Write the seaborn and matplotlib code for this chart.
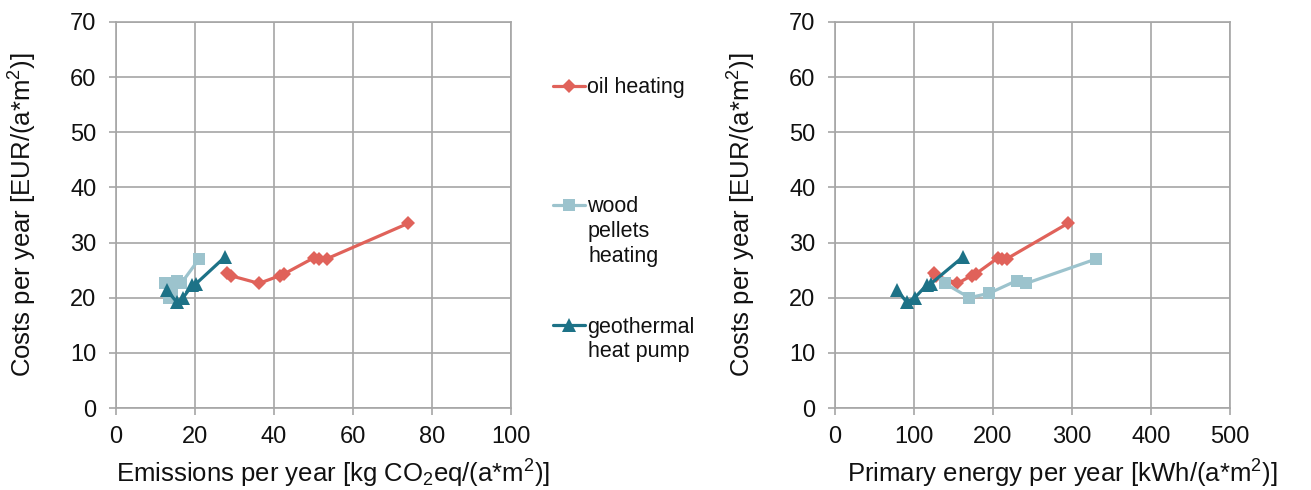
import matplotlib
matplotlib.use("Agg")
import matplotlib.pyplot as plt
import seaborn as sns
import pandas as pd

# values
oil_emis = [28.0, 29.0, 36.2, 41.5, 42.5, 50.0, 51.5, 53.5, 74.0]
oil_prim = [125, 128, 155, 173, 178, 206, 212, 218, 295]
oil_cost = [24.5, 24.0, 22.6, 24.0, 24.3, 27.2, 27.1, 27.1, 33.5]

wood_emis = [12.5, 13.5, 14.2, 15.5, 16.5, 21.0]
wood_prim = [139, 170, 195, 230, 242, 330]
wood_cost = [22.6, 20.0, 20.8, 23.1, 22.6, 27.0]

geo_emis = [12.8, 15.4, 17.0, 19.3, 20.2, 27.6]
geo_prim = [78, 91, 101, 116, 121, 162]
geo_cost = [21.4, 19.2, 20.0, 22.3, 22.5, 27.4]

series = ["oil heating", "wood pellets heating", "geothermal heat pump"]
legend_lines = [["oil heating"], ["wood", "pellets", "heating"], ["geothermal", "heat pump"]]
colors = ["#E0625A", "#9CC3CD", "#1D7287"]
markers = ["D", "s", "^"]
msizes = [7, 9, 10]

df = pd.concat([
    pd.DataFrame({"emis": oil_emis, "prim": oil_prim, "cost": oil_cost, "series": series[0]}),
    pd.DataFrame({"emis": wood_emis, "prim": wood_prim, "cost": wood_cost, "series": series[1]}),
    pd.DataFrame({"emis": geo_emis, "prim": geo_prim, "cost": geo_cost, "series": series[2]}),
])

sns.set_theme(style="whitegrid")
plt.rcParams["font.family"] = ["Liberation Sans", "DejaVu Sans"]
plt.rcParams["mathtext.fontset"] = "custom"
plt.rcParams["mathtext.rm"] = "Liberation Sans"
plt.rcParams["mathtext.it"] = "Liberation Sans:italic"

W, H = 1311, 490
fig = plt.figure(figsize=(W / 100, H / 100), dpi=100)
ax1 = fig.add_axes([116 / W, 82 / H, 395 / W, 386 / H])
ax2 = fig.add_axes([835 / W, 82 / H, 395 / W, 386 / H])

handles = []
for i, name in enumerate(series):
    sub = df[df["series"] == name]
    for ax, xcol in [(ax1, "emis"), (ax2, "prim")]:
        sns.lineplot(data=sub, x=xcol, y="cost", ax=ax, sort=False, color=colors[i],
                     marker=markers[i], markersize=msizes[i], markeredgewidth=0,
                     linewidth=2.3, estimator=None, legend=False)
    handles.append(ax1.lines[-1])

txt = "#111111"
for ax, xmax, xstep in [(ax1, 100, 20), (ax2, 500, 100)]:
    ax.set_xlim(0, xmax)
    ax.set_ylim(0, 70)
    ax.set_xticks(range(0, xmax + 1, xstep))
    ax.set_yticks(range(0, 71, 10))
    ax.grid(True, color="#a6a6a6", linewidth=1.2)
    for s in ax.spines.values():
        s.set_color("#a6a6a6")
        s.set_linewidth(1.2)
    ax.tick_params(labelsize=17, labelcolor=txt, length=5, width=1.2,
                   direction="out", left=True, bottom=True, color="#a6a6a6")
    ax.tick_params(axis="y", pad=9)
    ax.tick_params(axis="x", pad=8)
    ax.set_ylabel("Costs per year [EUR/(a*m$^2$)]", fontsize=18.5, color=txt)
    ax.yaxis.set_label_coords(-0.195, 0.5)

ax1.set_xlabel("Emissions per year [kg CO$_2$eq/(a*m$^2$)]", fontsize=18.5, color=txt)
ax1.xaxis.set_label_coords(0.549, -0.13)
ax2.set_xlabel("Primary energy per year [kWh/(a*m$^2$)]", fontsize=18.5, color=txt)
ax2.xaxis.set_label_coords(0.575, -0.13)

# legend: one entry per block, continuation lines as plain text below
first_y = [88, 207, 327]
step = 24.5
for i, h in enumerate(handles):
    fig.legend(handles=[h], labels=[legend_lines[i][0]], loc="center left",
               bbox_to_anchor=(553 / W, 1 - first_y[i] / H), frameon=False, fontsize=15.5,
               handlelength=1.5, handletextpad=0.1, borderaxespad=0, borderpad=0,
               labelcolor=txt)
    for j, extra in enumerate(legend_lines[i][1:]):
        fig.text(588 / W, 1 - (first_y[i] + step * (j + 1)) / H, extra, fontsize=15.5,
                 va="center", ha="left", color=txt)

fig.savefig("out.png", dpi=100)
